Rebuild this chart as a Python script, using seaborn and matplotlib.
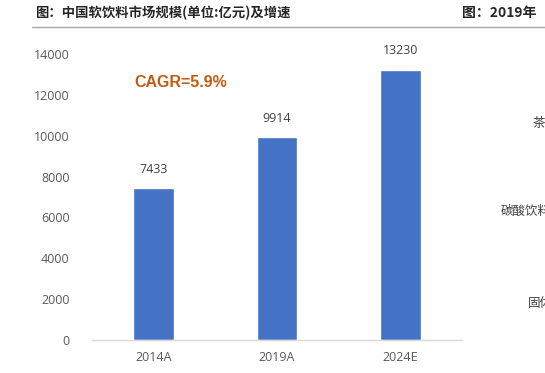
import matplotlib
matplotlib.use('Agg')
import matplotlib.pyplot as plt
import pandas as pd
import seaborn as sns

# soft drink market size (100m yuan)
years = ['2014A', '2019A', '2024E']
market_size = [7433, 9914, 13230]
y_ticks = [0, 2000, 4000, 6000, 8000, 10000, 12000, 14000]
title_text = '图：中国软饮料市场规模(单位:亿元)及增速'
cagr_text = 'CAGR=5.9%'
# cut-off labels of the neighbouring chart
next_title = '图：2019年'
next_labels = ['茶', '碳酸饮料', '固体']

sns.set_theme(style='white')
plt.rcParams['font.family'] = ['Noto Sans CJK SC', 'DejaVu Sans']

df = pd.DataFrame({'year': years, 'size': market_size})

W, H = 545, 373
fig = plt.figure(figsize=(W / 100, H / 100), dpi=100)
ax = fig.add_axes([92 / W, 1 - 340 / H, 370 / W, 286 / H])

sns.barplot(data=df, x='year', y='size', color='#4472C4', saturation=1,
            width=0.33, ax=ax)

for i, v in enumerate(market_size):
    ax.annotate(str(v), (i, v), textcoords='offset points', xytext=(0, 9),
                ha='center', va='bottom', fontsize=9, color='#404040',
                family=['Open Sans', 'DejaVu Sans'], annotation_clip=False)

ax.text(-0.16, 12600, cagr_text, fontsize=11.5, fontweight='bold',
        color='#C55A11', family=['Liberation Sans', 'DejaVu Sans'],
        va='center', ha='left')

ax.set_ylim(0, 14000)
ax.set_xlim(-0.5, 2.5)
ax.set_yticks(y_ticks)
ax.set_xlabel('')
ax.set_ylabel('')
ax.tick_params(axis='both', length=0, labelsize=9, colors='#595959')
ax.tick_params(axis='y', pad=16)
ax.tick_params(axis='x', pad=8)
for lab in ax.get_xticklabels() + ax.get_yticklabels():
    lab.set_family(['Open Sans', 'DejaVu Sans'])
for s in ['top', 'right', 'left']:
    ax.spines[s].set_visible(False)
ax.spines['bottom'].set_color('#D9D9D9')
ax.spines['bottom'].set_linewidth(1)

# header
fig.text(35 / W, 1 - 13 / H, title_text, fontsize=9.6, fontweight='bold',
         color='#262626', va='center', ha='left')
fig.text(462 / W, 1 - 13 / H, next_title, fontsize=10, fontweight='bold',
         color='#262626', va='center', ha='left')
fig.add_artist(plt.Line2D([32 / W, 1], [1 - 27 / H, 1 - 27 / H],
                          color='#A6A6A6', lw=1))

# clipped category labels of the chart on the right (cut by the crop, as in the source)
for lab, (x, y) in zip(next_labels, [(533, 123), (501, 211), (528, 303)]):
    fig.text(x / W, 1 - y / H, lab, fontsize=9, color='#404040',
             va='center', ha='left')

fig.savefig('out.png', dpi=100)
